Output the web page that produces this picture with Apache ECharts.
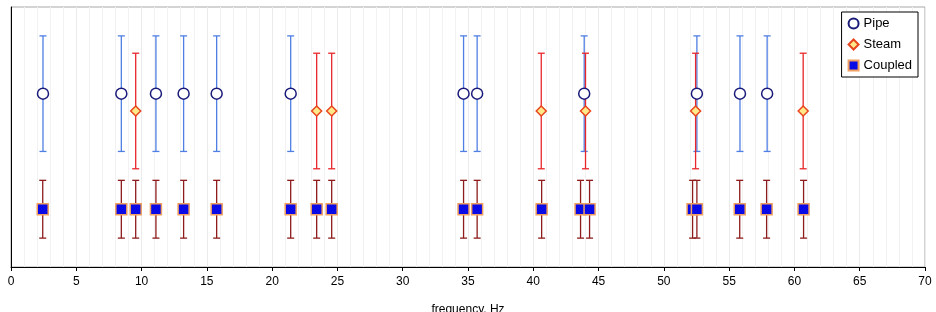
<!DOCTYPE html>
<html>
<head>
<meta charset="utf-8">
<script src="https://cdn.jsdelivr.net/npm/echarts@6/dist/echarts.min.js"></script>
<style>
  html, body { margin: 0; padding: 0; background: #fff; }
  #chart { width: 936px; height: 312px; }
</style>
</head>
<body>
<div id="chart"></div>
<script>
    // frequencies (Hz)
    var pipeFreq = [2.45, 8.45, 11.1, 13.22, 15.75, 21.42, 34.66, 35.7, 43.9, 52.53, 55.83, 57.91];
    var steamFreq = [9.55, 23.41, 24.56, 40.61, 44.0, 52.43, 60.67];
    var coupledFreq = [2.43, 8.45, 9.55, 11.1, 13.22, 15.75, 21.42, 23.41, 24.56, 34.66, 35.7,
        40.64, 43.62, 44.31, 52.2, 52.53, 55.81, 57.87, 60.7];

    // vertical level and error half-height of each group
    var seriesNames = ['Pipe', 'Steam', 'Coupled'];
    var levels = [3, 2.7, 1];
    var errors = [1, 1, 0.5];
    var xTicks = [0, 5, 10, 15, 20, 25, 30, 35, 40, 45, 50, 55, 60, 65, 70];

    var FONT = 'Liberation Sans, Arial, sans-serif';

    function points(freqs, level) {
        return freqs.map(function (f) { return [f, level]; });
    }
    function bars(freqs, level, err) {
        return freqs.map(function (f) { return [f, level - err, level + err]; });
    }

    // draws one error bar with caps, through the chart's own coordinates
    function errorBar(params, api) {
        var x = api.value(0);
        var top = api.coord([x, api.value(2)]);
        var bot = api.coord([x, api.value(1)]);
        var color = api.visual('color');
        var half = 3.5;
        var st = { stroke: color, lineWidth: 1.3 };
        return {
            type: 'group',
            children: [
                { type: 'line', shape: { x1: top[0], y1: top[1], x2: bot[0], y2: bot[1] }, style: st },
                { type: 'line', shape: { x1: top[0] - half, y1: top[1], x2: top[0] + half, y2: top[1] }, style: st },
                { type: 'line', shape: { x1: bot[0] - half, y1: bot[1], x2: bot[0] + half, y2: bot[1] }, style: st }
            ]
        };
    }

    var chart = echarts.init(document.getElementById('chart'));
    chart.setOption({
        animation: false,
        textStyle: { fontFamily: FONT },
        grid: {
            left: 11, right: 11, top: 7, bottom: 45,
            containLabel: false,
            outerBoundsMode: 'none',
            show: true, borderColor: '#a8a8a8', borderWidth: 1
        },
        legend: {
            orient: 'vertical',
            right: 18, top: 12,
            data: seriesNames,
            backgroundColor: '#fff',
            borderColor: '#000', borderWidth: 1,
            padding: [5, 6, 5, 6],
            itemGap: 8, itemWidth: 10, itemHeight: 10,
            textStyle: { fontSize: 13, color: '#000', fontFamily: FONT }
        },
        xAxis: {
            type: 'value',
            min: 0, max: 70, interval: 5,
            name: 'frequency, Hz',
            nameLocation: 'middle',
            nameGap: 37,
            nameTextStyle: { fontSize: 12, color: '#000', fontFamily: FONT },
            axisLine: { onZero: false, lineStyle: { color: '#000', width: 1 } },
            axisTick: { show: true, length: 4, lineStyle: { color: '#000' } },
            axisLabel: {
                color: '#000', fontSize: 12, margin: 9, fontFamily: FONT,
                formatter: function (v) { return xTicks.indexOf(v) >= 0 ? String(v) : ''; }
            },
            splitLine: { show: true, lineStyle: { color: '#ebebeb', width: 1 } },
            minorTick: { show: false, splitNumber: 5 },
            minorSplitLine: { show: true, lineStyle: { color: '#f2f2f2', width: 1 } }
        },
        yAxis: {
            type: 'value',
            min: 0, max: 4.5,
            axisLine: { show: true, lineStyle: { color: '#000', width: 1 } },
            axisTick: { show: false },
            axisLabel: { show: false },
            splitLine: { show: false }
        },
        series: [
            {
                name: 'PipeErr', type: 'custom', renderItem: errorBar, z: 1,
                itemStyle: { color: '#4f7fe3' },
                data: bars(pipeFreq, levels[0], errors[0])
            },
            {
                name: 'SteamErr', type: 'custom', renderItem: errorBar, z: 1,
                itemStyle: { color: '#e8262a' },
                data: bars(steamFreq, levels[1], errors[1])
            },
            {
                name: 'CoupledErr', type: 'custom', renderItem: errorBar, z: 1,
                itemStyle: { color: '#8e1c1c' },
                data: bars(coupledFreq, levels[2], errors[2])
            },
            {
                name: 'Pipe', type: 'scatter', z: 3,
                symbol: 'circle', symbolSize: 11,
                itemStyle: { color: '#fff', borderColor: '#1a1a7a', borderWidth: 1.5, opacity: 1 },
                data: points(pipeFreq, levels[0])
            },
            {
                name: 'Steam', type: 'scatter', z: 3,
                symbol: 'diamond', symbolSize: [10, 10],
                itemStyle: { color: '#ffe98a', borderColor: '#e8461e', borderWidth: 1.5, opacity: 1 },
                data: points(steamFreq, levels[1])
            },
            {
                name: 'Coupled', type: 'scatter', z: 3,
                symbol: 'rect', symbolSize: 11,
                itemStyle: { color: '#0a0ae6', borderColor: '#f0a060', borderWidth: 1.5, opacity: 1 },
                data: points(coupledFreq, levels[2])
            }
        ]
    });
</script>
</body>
</html>
